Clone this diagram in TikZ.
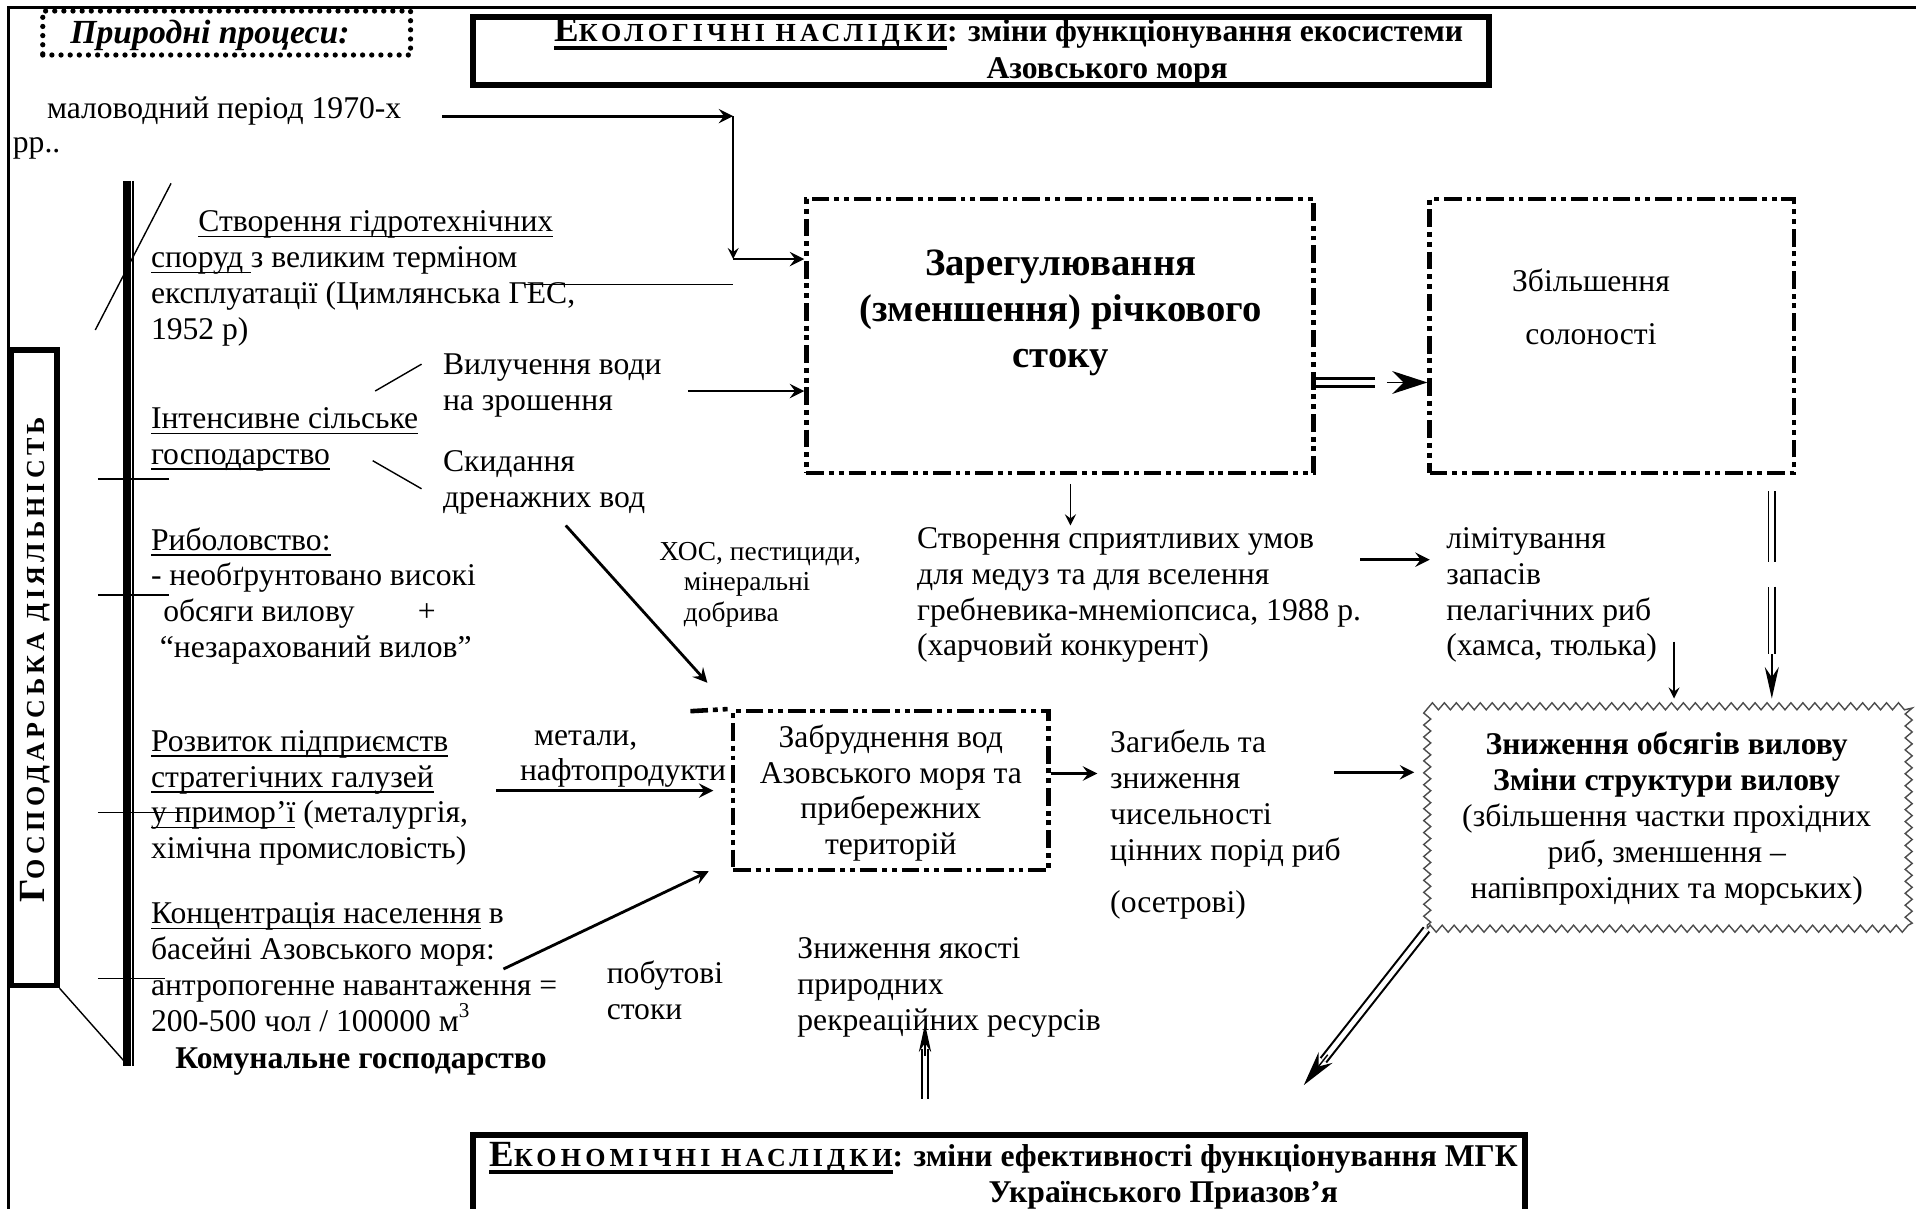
\documentclass[tikz,border=0pt]{standalone}
\usepackage{fontspec}
\setmainfont{Liberation Serif}
\usepackage{tikz}
\usetikzlibrary{arrows, arrows.meta, fit, calc, decorations.pathmorphing}
\renewcommand{\normalsize}{\fontsize{9}{10.2}\selectfont}

\tikzstyle{arrow} = [thick,->,>=stealth]
\tikzstyle{tarrow} = [->,>=stealth]
\tikzstyle{txt} = [anchor=north west, align=left, inner sep=0pt]
\tikzstyle{dd} = [draw, inner sep=0pt, line width=1.3pt, dash pattern=on 5pt off 1.4pt on 1.4pt off 1.4pt on 1.4pt off 1.4pt]
\tikzstyle{dots} = [draw, inner sep=0pt, line width=1.5pt, line cap=round, dash pattern=on 0pt off 2.6pt]
\tikzstyle{zig} = [draw=black!70, inner sep=0pt, line width=0.4pt, decorate, decoration={zigzag, segment length=3.4pt, amplitude=1pt}]
\tikzstyle{hbox} = [draw, inner sep=0pt, line width=0.5pt]
\tikzstyle{dline} = [double, double distance=1.4pt, line width=0.6pt]

\newcommand{\capsp}[2]{{\fontsize{10.5}{12}\selectfont #1}{\fontsize{7.4}{9}\selectfont\addfontfeature{LetterSpace=16}#2}}
\newcommand{\uln}[1]{\setbox0\hbox{#1}\rlap{\rule[-1.6pt]{\wd0}{0.45pt}}\box0\relax}
\newcommand{\hdul}[1]{\setbox0\hbox{#1}\rlap{\rule[-2.2pt]{\wd0}{1.1pt}}\box0\relax}

\begin{document}
\begin{tikzpicture}[x=0.1222mm, y=-0.1222mm]
\useasboundingbox (0,0) rectangle (1568,989);

% frame
\draw[line width=0.9pt] (7,1100) -- (7,6) -- (1700,6);

% headers
\node[hbox, fit={(385,12) (1220,71)}] (eco) {};
\draw[line width=1.4pt] ([shift={(3,3)}]eco.north west) rectangle ([shift={(-3,-3)}]eco.south east);
\node[txt, font=\bfseries, align=left] (ecot) at (453,14) {\hdul{\capsp{Е}{КОЛОГІЧНІ НАСЛІДКИ}}: зміни функціонування екосистеми\\[0.3pt]\hspace*{123pt}Азовського моря};

\node[hbox, fit={(385,927) (1250,1010)}] (econ) {};
\draw[line width=1.4pt] ([shift={(3,3)}]econ.north west) rectangle ([shift={(-3,-3)}]econ.south east);
\node[txt, font=\bfseries, align=left] (econt) at (400,934) {\hdul{\capsp{Е}{КОНОМІЧНІ НАСЛІДКИ}}: зміни ефективності функціонування МГК\\\hspace*{142pt}Українського Приазов’я};

% natural processes
\node[dots, fit={(35,9) (336,45)}] (nat) {};
\node[txt, font=\fontsize{9.6}{11}\selectfont\bfseries\itshape] (natt) at (57,16) {Природні процеси:};
\node[txt] (low) at (10,79) {\hspace*{9.7pt}маловодний період 1970-х\\[-0.5pt]рр..};

% river flow
\node[dd, fit={(660,163) (1075,387)}] (reg) {};
\node[align=center, font=\fontsize{11}{13}\selectfont\bfseries] (regt) at (868,256) {Зарегулювання\\(зменшення) річкового\\стоку};
\node[dd, fit={(1170,163) (1468,387)}] (sal) {};
\node[align=center] (salt) at (1302,251) {Збільшення\\[4.8pt]солоності};

\coordinate (a0) at (362,95);
\coordinate (c1) at (600,95);
\coordinate (c2) at (600,212);
\coordinate (c3) at (600,233);
\draw[arrow] (a0) -- (c1);
\draw[tarrow] (c1) -- (c2);
\draw[arrow] (c2) -- (reg.west |- c2);
\draw (430,233) -- (c3);

\coordinate (d1) at (1125,313);
\coordinate (d2) at (1135,313);
\draw[dline, line width=0.8pt] (reg.east |- d1) -- (d1);
\draw[-{Stealth[length=10pt,width=6.5pt]}] (d2) -- (sal.west |- d2);

% economic activity
\node[hbox, fit={(8,285) (48,808)}] (gd) {};
\draw[line width=1.1pt] ([shift={(3,3)}]gd.north west) rectangle ([shift={(-3,-3)}]gd.south east);
\node[rotate=90, font=\bfseries] (gdt) at (29,540) {\capsp{Г}{ОСПОДАРСЬКА ДІЯЛЬНІСТЬ}};

\draw[line width=2.4pt] (104,148) -- (104,872);
\draw (109,148) -- (109,872);
\draw (140,150) -- (78,270);
\draw (80,392) -- (138,392);
\draw (80,487) -- (138,487);
\draw (80,665) -- (150,665);
\draw (80,801) -- (135,801);
\draw (gd.south east) -- (103,870);

\node[txt] (cre) at (123,172) {\hspace*{13.5pt}\uln{Створення гідротехнічних}\\\uln{споруд\ }з великим терміном\\експлуатації (Цимлянська ГЕС,\\1952 р)};

\node[txt] (agr) at (123,333) {\uln{Інтенсивне сільське}\\\uln{господарство}};
\node[txt] (wat) at (362,289) {Вилучення води\\на зрошення};
\node[txt] (drn) at (362,368) {Скидання\\дренажних вод};
\draw (307,320) -- (345,298);
\draw (305,377) -- (345,400);
\coordinate (w1) at (563,320);
\draw[arrow] (w1) -- (reg.west |- w1);

\node[txt, font=\fontsize{7.8}{8.7}\selectfont] (chem) at (539,443) {ХОС, пестициди,\\\hspace*{7pt}мінеральні\\\hspace*{7pt}добрива};

\node[txt] (fish) at (123,431) {\uln{Риболовство:}\\- необґрунтовано високі\\\hspace*{3.5pt}обсяги вилову\hspace{18pt}+\\\hspace*{2.5pt}“незарахований вилов”};

\node[txt] (ind) at (123,597) {\uln{Розвиток підприємств}\\\uln{стратегічних галузей}\\\uln{у примор’ї} (металургія,\\хімічна промисловість)};
\node[txt] (met) at (425,597) {\hspace*{4pt}метали,\\нафтопродукти};

\node[txt] (pop) at (123,738) {\uln{Концентрація населення} в\\басейні Азовського моря:\\антропогенне навантаження =\\200-500 чол / 100000 м\textsuperscript{3}};
\node[txt, font=\bfseries] (kom) at (143,857) {Комунальне господарство};
\node[txt] (pob) at (496,786) {побутові\\стоки};

% pollution
\node[dd, fit={(600,582) (858,712)}] (pol) {};
\draw[dd] (565,582) -- (pol.north west);
\node[align=center] (polt) at (729,649) {Забруднення вод\\Азовського моря та\\прибережних\\територій};

\coordinate (dr1) at (463,430);
\draw[arrow, shorten >=10pt] (dr1) -- (pol.north west);
\coordinate (m1) at (406,647);
\draw[arrow, shorten >=5pt] (m1) -- (pol.west |- m1);
\coordinate (p1) at (412,793);
\coordinate (p2) at (580,713);
\draw[arrow] (p1) -- (p2);

\node[txt] (dth) at (908,597) {Загибель та\\зниження\\чисельності\\цінних порід риб\\[4.5pt](осетрові)};
\coordinate (e1) at (898,633);
\draw[arrow] (pol.east |- e1) -- (e1);

% catch
\node[zig, fit={(1168,578) (1562,760)}] (catch) {};
\node[align=center] (catcht) at (1364,670) {\textbf{Зниження обсягів вилову}\\\textbf{Зміни структури вилову}\\(збільшення частки прохідних\\риб, зменшення –\\напівпрохідних та морських)};
\coordinate (e2) at (1092,632);
\draw[arrow, shorten >=3.5pt] (e2) -- (catch.west |- e2);

% favourable conditions
\coordinate (f1) at (876,430);
\draw[tarrow, shorten <=2.5pt] (reg.south -| f1) -- (f1);
\node[txt] (fav) at (750,431) {Створення сприятливих умов\\для медуз та для вселення\\гребневика-мнеміопсиса, 1988 р.\\(харчовий конкурент)};
\node[txt] (lim) at (1183,431) {лімітування\\запасів\\пелагічних риб\\(хамса, тюлька)};
\coordinate (g1) at (1113,458);
\draw[arrow, shorten >=4.5pt] (g1) -- (lim.west |- g1);
\coordinate (h1) at (1370,525);
\draw[tarrow, shorten >=2pt] (h1) -- (catch.north -| h1);

\coordinate (s1) at (1450,460);
\coordinate (s2) at (1450,480);
\coordinate (s3) at (1450,535);
\draw[dline, line width=0.5pt, shorten <=4.5pt] (sal.south -| s1) -- (s1);
\draw[dline, line width=0.5pt] (s2) -- (s3);
\draw[-{Stealth[length=9pt,width=4pt]}, shorten >=2pt] (s3) -- (catch.north -| s3);

% to economic consequences
\coordinate (k2) at (1067,888);
\draw[dline, shorten >=9pt] (catch.south west) -- (k2);
\draw[-{Stealth[length=10pt,width=5pt]}] ($(k2)!11pt!(catch.south west)$) -- (k2);

\node[txt] (rec) at (652,767) {Зниження якості\\природних\\рекреаційних ресурсів};
\coordinate (r1) at (757,838);
\draw[dline, line width=0.5pt, shorten <=9.4pt, shorten >=7pt] (econ.north -| r1) -- (r1);
\draw[-{Stealth[length=8pt,width=3.5pt]}] ([yshift=-9pt]r1) -- (r1);

\end{tikzpicture}
\end{document}
